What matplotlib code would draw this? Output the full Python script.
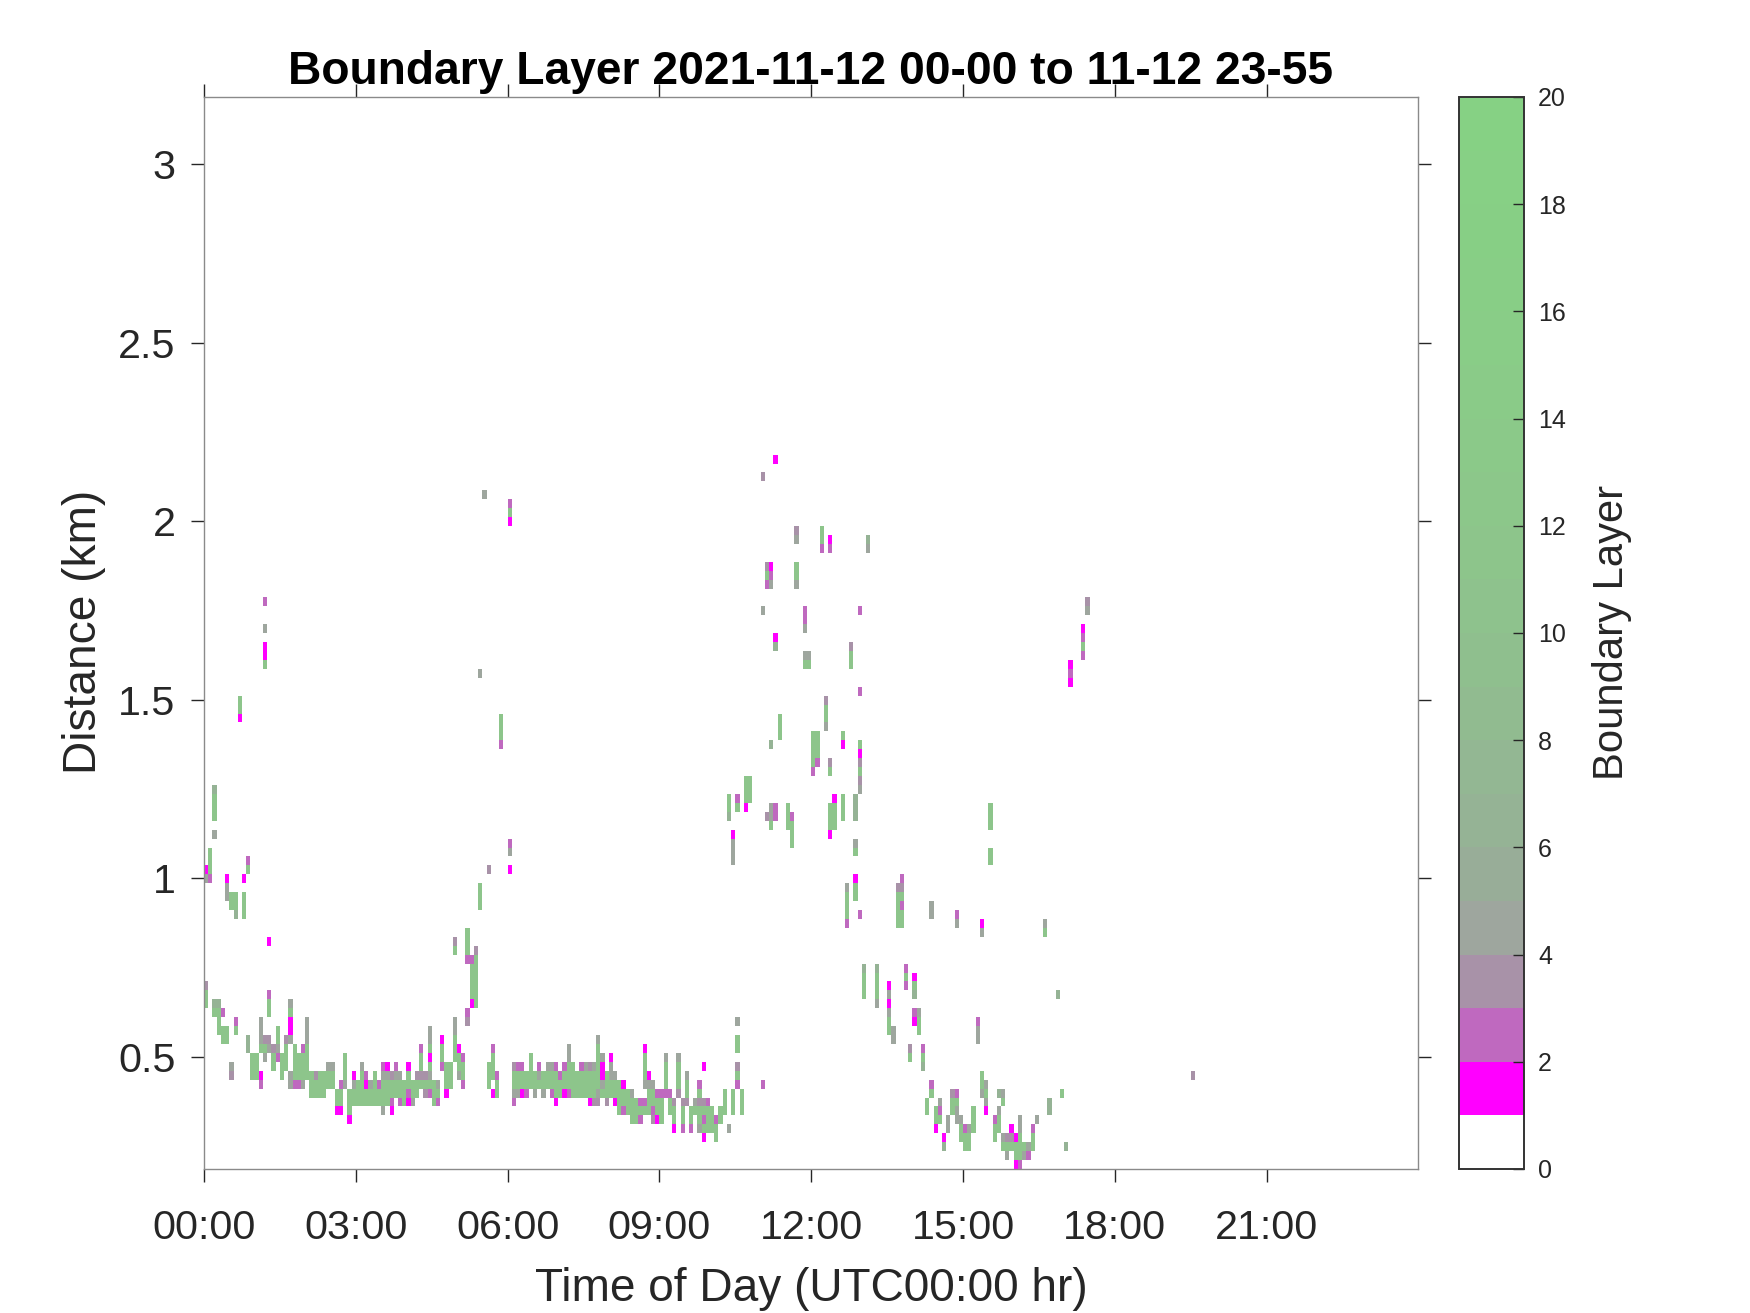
import numpy as np
import matplotlib
matplotlib.use("Agg")
import matplotlib.pyplot as plt
from matplotlib.colors import ListedColormap, Normalize

plt.rcParams['font.family'] = ['Liberation Sans', 'DejaVu Sans']

TITLE = "Boundary Layer 2021-11-12 00-00 to 11-12 23-55"
XLABEL = "Time of Day (UTC00:00 hr)"
YLABEL = "Distance (km)"
CBLABEL = "Boundary Layer"
XTICK_HOURS = [0, 3, 6, 9, 12, 15, 18, 21]
YTICKS = [0.5, 1, 1.5, 2, 2.5, 3]
YTICK_LABELS = ["0.5", "1", "1.5", "2", "2.5", "3"]
CBTICKS = list(range(0, 21, 2))

BIN_MINUTES = 5
RANGE_GATE_KM = 0.025
FIRST_GATE_KM = 0.1865
N_BINS = 288
N_GATES = 121

# Colours of the 20 colorbar levels (0-1, 1-2, ... 19-20)
LEVEL_COLORS = ["#FFFFFF", "#FF00FF", "#BF69BF", "#A892A8", "#9EA69E", "#98AD98",
                "#95B395", "#93B793", "#91BB90", "#8FBF8E", "#8EC28D", "#8DC58B",
                "#8CC78A", "#8BC989", "#8ACB88", "#89CD87", "#88CE86", "#87CF85",
                "#87D085", "#86D184"]
# Value shown by each code letter in the runs below
CODE_VALUES = {'1': 1.5, '2': 2.5, '3': 3.5, '4': 4.5, '5': 6.5, '9': 11.5}

# (time bin, lowest range gate, codes going upward; '.' = no value)
runs_00_to_03 = [
    (0, 18, "993"), (0, 32, "41"), (1, 32, "2999"), (2, 17, "95"), (2, 37, "4"), (2, 39, "9995"),
    (3, 15, "9995"), (4, 14, "99.2"), (5, 14, "99"), (5, 30, "441"), (6, 10, "34"), (6, 29, "99"),
    (7, 15, "92"), (7, 28, "599"), (8, 50, "199"), (9, 28, "999.1"), (10, 13, "55"), (10, 33, "92"),
    (11, 10, "999"), (12, 10, "999"), (13, 9, "21..9444"), (14, 12, "493"), (14, 56, "911.4..2"),
    (15, 13, "43"), (15, 17, "992"), (15, 25, "1"), (16, 11, "993"), (17, 12, "2499"), (18, 10, "999"),
    (19, 11, "9993"), (20, 9, "44...41194"), (21, 9, "29999"), (22, 9, "2999"), (23, 9, "49992"),
    (24, 10, "9999444"), (25, 8, "999"), (26, 8, "993"), (27, 8, "999"), (28, 8, "999"),
    (29, 9, "994"), (30, 9, "994"), (31, 6, "199"), (32, 6, "1992"), (33, 9, "4999"), (34, 5, "1999"),
    (35, 7, "9941"),
]
runs_03_to_06 = [
    (36, 7, "999"), (37, 7, "99994"), (38, 7, "9912"), (39, 7, "994"), (40, 7, "9999"), (41, 7, "992"),
    (42, 6, "499942"), (43, 7, "99941"), (44, 6, "12993"), (45, 8, "9942"), (46, 7, "2994"),
    (47, 7, "999"), (48, 7, "12991"), (49, 7, "499"), (50, 8, "993"), (51, 9, "93992"), (52, 8, "393"),
    (53, 8, "29491944"), (54, 7, "999"), (55, 7, "294"), (56, 11, "2991"), (57, 8, "1999"), (58, 9, "999"),
    (59, 12, "99944"), (59, 24, "93"), (60, 10, "4991"), (61, 9, "2992"), (62, 16, "32"), (62, 23, "2999"),
    (63, 18, "199992"), (64, 18, "9999993"), (65, 29, "999"), (65, 55, "4"), (66, 75, "4"),
    (67, 9, "999"), (67, 33, "3"), (68, 8, "1.9992"), (69, 8, "992"), (70, 47, "2999"),
]
runs_06_to_09 = [
    (72, 33, "1.42"), (72, 72, "192"), (73, 7, "24993"), (74, 8, "4992"), (75, 8, "1992"), (76, 8, "299"),
    (77, 9, "9999"), (78, 8, "499"), (79, 9, "942"), (80, 8, "499"), (81, 9, "994"), (82, 8, "2994"),
    (83, 7, "19992"), (84, 8, "992"), (85, 8, "1992"), (86, 8, "299944"), (87, 8, "9999"), (88, 8, "999"),
    (89, 8, "9992"), (90, 8, "9994"), (91, 7, "19993"), (92, 7, "39994"), (93, 7, "34999994"),
    (94, 8, "94114"), (95, 7, "3999"), (96, 8, "99441"), (97, 7, "1994"), (98, 6, "9999"), (99, 6, "2991"),
    (100, 6, "999"), (101, 5, "9994"), (102, 5, "999"), (103, 5, "292"), (104, 6, "92.49991"),
    (105, 6, "99941"), (106, 5, "32994"), (107, 5, "1992"),
]
runs_09_to_12 = [
    (108, 5, "9992"), (109, 8, "29994"), (110, 6, "992"), (111, 4, "1993"), (112, 8, "39994"),
    (113, 4, "2993"), (114, 7, "3994"), (115, 4, "299"), (116, 6, "94"), (117, 4, "499392"),
    (118, 3, "19293...1"), (119, 4, "9992"), (120, 4, "999"), (121, 3, "992"), (122, 5, "99"),
    (123, 6, "999"), (124, 4, "4"), (124, 39, "599"), (125, 6, "999"), (125, 34, "4441"),
    (126, 9, "293.99.4"), (126, 40, "92"), (127, 6, "999"), (128, 40, "1999"), (129, 41, "999"),
    (132, 9, "2"), (132, 62, "4"), (132, 77, "3"), (133, 39, "3"), (133, 65, "293"), (134, 38, "944"),
    (134, 47, "5"), (134, 65, "421"), (135, 39, "22"), (135, 58, "51"), (135, 79, "1"), (136, 48, "999"),
    (138, 38, "999"), (139, 36, "9992"), (140, 65, "499"), (140, 70, "43"), (142, 56, "94..422"),
    (143, 56, "94"),
]
runs_12_to_15 = [
    (144, 44, "29999"), (145, 45, "2999"), (146, 69, "299"), (147, 49, "4993"), (148, 37, "1999...93"),
    (148, 69, "21"), (149, 38, "9991"), (151, 39, "999"), (151, 47, "19"), (152, 27, "29994"),
    (153, 56, "993"), (154, 30, "991"), (154, 35, "94"), (154, 39, "555"), (155, 28, "2"),
    (155, 42, "439319"), (155, 53, "2"), (155, 62, "2"), (156, 19, "9995"), (157, 69, "45"),
    (159, 18, "49995"), (162, 15, "994141"),
    (163, 14, "44"), (164, 27, "99993"), (165, 27, "992932"), (166, 20, "292"), (167, 12, "93"),
    (168, 16, "12"), (168, 19, "591"), (169, 15, "994"), (170, 11, "592"), (171, 6, "99"), (172, 8, "92"),
    (172, 28, "44"), (173, 4, "199"), (174, 5, "924"), (175, 2, "51"), (176, 4, "44"), (177, 6, "993"),
    (178, 5, "4492"), (178, 27, "42"), (179, 3, "994"),
]
runs_15_to_24 = [
    (180, 2, "992"), (181, 2, "994"), (182, 4, "999"), (183, 14, "442"), (184, 8, "499"), (184, 26, "41"),
    (185, 6, "1494"), (186, 34, "99"), (186, 38, "999"), (187, 3, "992"), (188, 4, "994.5"), (189, 2, "94"),
    (189, 7, "94"), (190, 1, "493"), (191, 2, "931"), (192, 0, "1991"), (193, 0, "299944"), (194, 1, "49"),
    (195, 1, "24"), (196, 2, "992"), (197, 5, "4"), (199, 26, "94"), (200, 6, "55"), (202, 19, "5"),
    (203, 8, "9"), (204, 2, "5"), (205, 54, "121"), (208, 57, "2921"), (209, 62, "43"), (234, 10, "3"),
]

grid = np.full((N_GATES, N_BINS), np.nan)
for block in (runs_00_to_03, runs_03_to_06, runs_06_to_09, runs_09_to_12, runs_12_to_15, runs_15_to_24):
    for t_bin, gate, codes in block:
        for offset, code in enumerate(codes):
            if code != '.':
                grid[gate + offset, t_bin] = CODE_VALUES[code]

x_edges = np.arange(N_BINS + 1) * BIN_MINUTES / 60.0
y_edges = FIRST_GATE_KM + np.arange(N_GATES + 1) * RANGE_GATE_KM

W, H = 1750, 1313
fig = plt.figure(figsize=(W / 100, H / 100), dpi=100, facecolor='white')


def box(left, top, right, bottom):
    return [left / W, 1 - bottom / H, (right - left) / W, (bottom - top) / H]


ax = fig.add_axes(box(204, 97, 1418.5, 1169))
cmap = ListedColormap(LEVEL_COLORS)
norm = Normalize(vmin=0, vmax=20)
mesh = ax.pcolormesh(x_edges, y_edges, np.ma.masked_invalid(grid), cmap=cmap, norm=norm,
                     antialiased=False, linewidth=0, rasterized=True)

TEXT = '#262626'
ax.set_xlim(0, 24)
ax.set_ylim(FIRST_GATE_KM, 3.1875)
ax.set_xticks(XTICK_HOURS)
ax.set_xticklabels([f"{h:02d}:00" for h in XTICK_HOURS])
ax.set_yticks(YTICKS)
ax.set_yticklabels(YTICK_LABELS)
ax.tick_params(axis='both', which='major', direction='out', length=9.5, width=1.0, color='#262626',
               labelsize=29.7, labelcolor=TEXT, top=True, right=True)
ax.tick_params(axis='x', pad=19)
ax.tick_params(axis='y', pad=11)
for s in ax.spines.values():
    s.set_color('#8a8a8a')
    s.set_linewidth(1.0)

fig.text(811 / W, 1 - 71.5 / H, TITLE, fontsize=33.2, fontweight='bold', color='black',
         ha='center', va='center')
fig.text(811 / W, 1 - 1289 / H, XLABEL, fontsize=33.1, color=TEXT, ha='center', va='center')
fig.text(83.5 / W, 1 - 632 / H, YLABEL, fontsize=33.1, color=TEXT, rotation=90, ha='center', va='center')

cax = fig.add_axes(box(1458.5, 97, 1524, 1169))
cb = fig.colorbar(mesh, cax=cax, ticks=CBTICKS)
cb.outline.set_edgecolor('#333333')
cb.outline.set_linewidth(1.4)
cb.solids.set_antialiased(False)
cax.tick_params(axis='y', direction='in', length=8, width=1.0, color='#262626',
                labelsize=18, labelcolor=TEXT, pad=10)
fig.text(1611.5 / W, 1 - 632 / H, CBLABEL, fontsize=30.1, color=TEXT, rotation=90, ha='center', va='center')

fig.savefig('out.png', dpi=100, facecolor='white')
